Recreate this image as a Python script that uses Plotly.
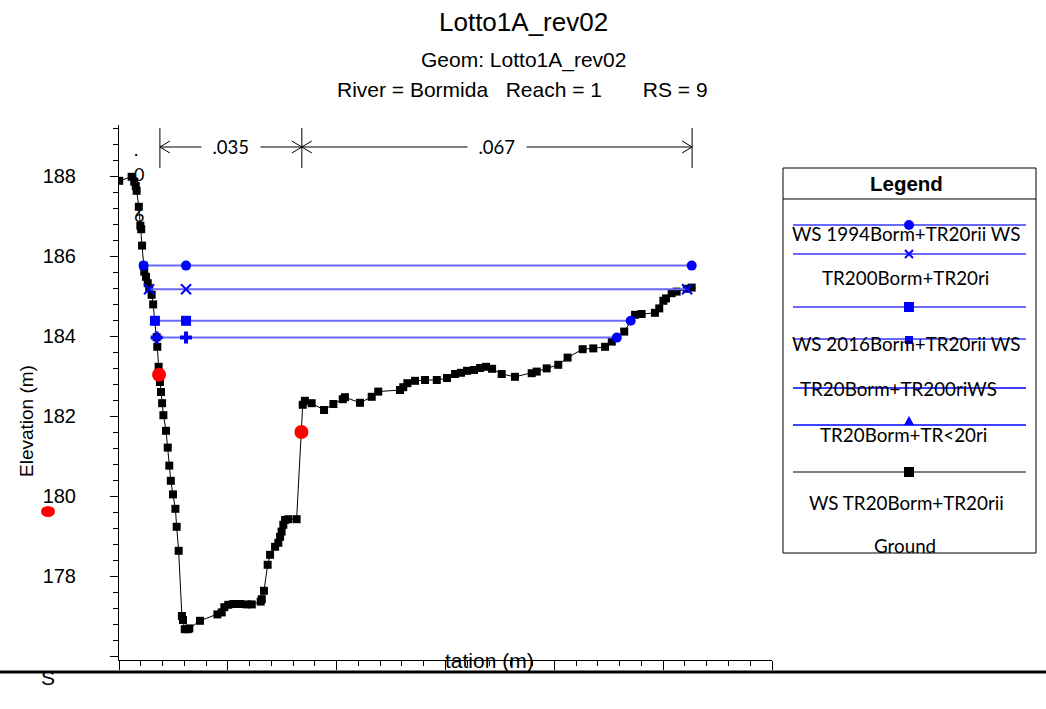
import plotly.graph_objects as go

# ---------------- data ----------------
ground_sta = [0.1, 5.8, 7.0, 7.7, 8.1, 9.1, 9.8, 10.2, 10.6, 11.3, 11.6, 12.4, 13.2, 13.9, 15.0,
              15.7, 16.5, 17.3, 17.6, 18.2, 18.8, 19.3, 19.8, 20.4, 21.6, 22.4, 23.1, 23.8, 24.8,
              25.9, 26.5, 27.4, 28.9, 29.4, 30.2, 31.6, 32.3, 37.2, 45.2, 47.2, 48.4, 50.2, 52.5,
              55.6, 58.7, 61.0, 65.1, 65.6, 66.6, 68.3, 69.4, 71.7, 73.2, 74.0, 74.7, 75.5, 76.3,
              77.8, 81.6, 84.4, 85.4, 88.5, 94.2, 98.5, 102.8, 103.8, 110.7, 116.1, 119.1, 129.1,
              130.6, 132.5, 136.0, 140.6, 146.0, 150.7, 154.4, 157.1, 159.9, 163.1, 165.9, 168.6,
              171.4, 175.8, 181.9, 189.6, 191.9, 196.5, 201.8, 206.1, 213.0, 217.9, 223.3, 226.4,
              232.1, 237.1, 240.1, 246.2, 248.2, 250.1, 251.3, 253.9, 256.2, 260.8, 263.1]
ground_elev = [187.88, 187.98, 187.86, 187.75, 187.63, 187.23, 186.76, 186.67, 186.26, 185.76,
               185.61, 185.48, 185.32, 185.19, 185.03, 184.79, 184.38, 183.97, 183.73, 183.23,
               182.85, 182.60, 182.32, 182.02, 181.63, 181.21, 180.76, 180.38, 180.04, 179.68,
               179.23, 178.63, 177.00, 176.90, 176.67, 176.67, 176.69, 176.88, 177.04, 177.09,
               177.22, 177.28, 177.30, 177.30, 177.29, 177.29, 177.36, 177.42, 177.63, 178.28,
               178.53, 178.73, 178.83, 178.98, 179.11, 179.28, 179.40, 179.42, 179.42, 182.28,
               182.38, 182.32, 182.15, 182.30, 182.42, 182.47, 182.33, 182.48, 182.61, 182.65,
               182.72, 182.82, 182.88, 182.90, 182.90, 182.95, 183.05, 183.08, 183.13, 183.15,
               183.20, 183.23, 183.18, 183.05, 182.98, 183.07, 183.11, 183.19, 183.28, 183.46,
               183.67, 183.69, 183.73, 183.86, 184.11, 184.53, 184.55, 184.58, 184.69, 184.88,
               184.94, 185.07, 185.11, 185.18, 185.21]

ws_names = ["WS 1994Borm+TR20rii", "WS TR200Borm+TR20ri", "WS 2016Borm+TR20rii", "WS TR20Borm+TR200ri"]
ws_elev = [185.76, 185.17, 184.38, 183.96]
ws_sta = [[11.3, 30.8, 263.1], [13.8, 30.8, 261.0], [16.5, 30.8, 235.1], [17.3, 30.8, 228.7]]
ws_symbols = [["circle"] * 3, ["x-thin"] * 3, ["square", "square", "circle"], ["cross", "cross", "circle"]]

bank_sta = [18.4, 83.8]
bank_elev = [183.03, 181.60]
n_values = [".035", ".067"]
reach_ends = [18.8, 84.0, 263.3]

ytick_vals = [176, 178, 180, 182, 184, 186, 188]
ytick_text = ["", "178", "180", "182", "184", "186", "188"]

legend_labels = ["WS 1994Borm+TR20rii WS", "TR200Borm+TR20ri", "WS 2016Borm+TR20rii WS",
                 "TR20Borm+TR200riWS", "TR20Borm+TR<20ri", "WS TR20Borm+TR20rii", "Ground"]

# ---------------- layout helpers (page pixel coordinates) ----------------
W, H = 1046, 709
L, R, T, B = 119, 772, 125, 660   # plot area in page pixels
XR = [0, 300]
YR = [175.9, 189.275]


def px(x):
    return (x - L) / (R - L)


def py(y):
    return (B - y) / (B - T)


def sta_to_px(s):
    return L + (s - XR[0]) / (XR[1] - XR[0]) * (R - L)


BLUE = "#0000ff"
WSLINE = "rgb(105,105,255)"
ARIAL = "Liberation Sans, Arial, sans-serif"
CAL = "Lato, Carlito, sans-serif"

fig = go.Figure()

fig.add_trace(go.Scatter(x=ground_sta, y=ground_elev, mode="lines+markers", name="Ground",
                         line=dict(color="black", width=1),
                         marker=dict(symbol="square", size=8, color="black"), showlegend=False))

for name, e, st, sy in zip(ws_names, ws_elev, ws_sta, ws_symbols):
    fig.add_trace(go.Scatter(x=st, y=[e] * len(st), mode="lines+markers", name=name,
                             line=dict(color=WSLINE, width=2),
                             marker=dict(symbol=sy, size=10, color=BLUE,
                                         line=dict(color=BLUE, width=2 if sy[0] == "x-thin" else 0)),
                             showlegend=False))

fig.add_trace(go.Scatter(x=bank_sta, y=bank_elev, mode="markers", name="Bank Sta",
                         marker=dict(symbol="circle", size=14, color="#ff0000"), showlegend=False))

shapes = []
ann = []


def text(x, y, t, family, size, **kw):
    ann.append(dict(x=px(x), y=py(y), xref="paper", yref="paper", showarrow=False, text=t,
                    xanchor="center", yanchor="middle",
                    font=dict(family=family, size=size, color="black"), **kw))


# n-value dimension lines
ytop, ybot, yarr = 128, 168, 147
for s in reach_ends:
    xp = px(sta_to_px(s))
    shapes.append(dict(type="line", xref="paper", yref="paper", x0=xp, x1=xp, y0=py(ybot), y1=py(ytop),
                       line=dict(color="black", width=1)))
for i, nv in enumerate(n_values):
    a, b = sta_to_px(reach_ends[i]), sta_to_px(reach_ends[i + 1])
    shapes.append(dict(type="line", xref="paper", yref="paper", x0=px(a), x1=px(b), y0=py(yarr), y1=py(yarr),
                       line=dict(color="black", width=1)))
    path = (f"M {px(a + 10)} {py(yarr - 6)} L {px(a)} {py(yarr)} L {px(a + 10)} {py(yarr + 6)} "
            f"M {px(b - 10)} {py(yarr - 6)} L {px(b)} {py(yarr)} L {px(b - 10)} {py(yarr + 6)}")
    shapes.append(dict(type="path", xref="paper", yref="paper", path=path, line=dict(color="black", width=1)))
    text((a + b) / 2, yarr, "\u00a0\u00a0" + nv + "\u00a0\u00a0", CAL, 18.5, bgcolor="white")

# legend box
lx0, lx1, ly0, ly1, lhead = 783, 1036, 168, 553, 199
shapes.append(dict(type="rect", xref="paper", yref="paper", x0=px(lx0), x1=px(lx1), y0=py(ly1), y1=py(ly0),
                   line=dict(color="black", width=1), fillcolor="white", layer="below"))
shapes.append(dict(type="line", xref="paper", yref="paper", x0=px(lx0), x1=px(lx1), y0=py(lhead), y1=py(lhead),
                   line=dict(color="black", width=1)))
text(906, 183, "<b>Legend</b>", ARIAL, 20.5)

key_lines = [(225, WSLINE, 2), (254, WSLINE, 2), (307, WSLINE, 2), (339, WSLINE, 2),
             (388, BLUE, 1.5), (425, BLUE, 1.5), (472, "#808080", 2)]
for yy, c, w in key_lines:
    shapes.append(dict(type="line", xref="paper", yref="paper", x0=px(793), x1=px(1026), y0=py(yy), y1=py(yy),
                       line=dict(color=c, width=w)))
mx = 909
shapes.append(dict(type="circle", xref="paper", yref="paper", x0=px(mx - 5), x1=px(mx + 5), y0=py(230), y1=py(220),
                   fillcolor=BLUE, line=dict(width=0)))
shapes.append(dict(type="path", xref="paper", yref="paper",
                   path=f"M {px(mx-4)} {py(250)} L {px(mx+4)} {py(258)} M {px(mx-4)} {py(258)} L {px(mx+4)} {py(250)}",
                   line=dict(color=BLUE, width=2)))
shapes.append(dict(type="rect", xref="paper", yref="paper", x0=px(mx - 5), x1=px(mx + 5), y0=py(312), y1=py(302),
                   fillcolor=BLUE, line=dict(width=0)))
shapes.append(dict(type="rect", xref="paper", yref="paper", x0=px(mx - 4), x1=px(mx + 4), y0=py(344), y1=py(336),
                   fillcolor=BLUE, line=dict(width=0)))
shapes.append(dict(type="path", xref="paper", yref="paper",
                   path=f"M {px(mx-5)} {py(425)} L {px(mx)} {py(416)} L {px(mx+5)} {py(425)} Z",
                   fillcolor=BLUE, line=dict(width=0)))
shapes.append(dict(type="rect", xref="paper", yref="paper", x0=px(mx - 5), x1=px(mx + 5), y0=py(477), y1=py(467),
                   fillcolor="black", line=dict(width=0)))

label_pos = [(906, 233), (905, 277), (906, 343), (898, 388), (904, 434), (906, 502), (905, 545)]
for (xx, yy), t in zip(label_pos, legend_labels):
    text(xx, yy, t, CAL, 18.8)

# titles
text(523, 22, "Lotto1A_rev02", ARIAL, 26)
text(523, 60, "Geom: Lotto1A_rev02", ARIAL, 21)
text(522, 89, "River = Bormida\u00a0\u00a0\u00a0Reach = 1\u00a0\u00a0\u00a0\u00a0\u00a0\u00a0\u00a0RS = 9", ARIAL, 21)

# axis titles (split as in the picture)
text(26, 421, "Elevation (m)", ARIAL, 19, textangle=-90)
text(489, 660, "tation (m)", ARIAL, 21)
text(48, 677, "S", ARIAL, 21)

# stray characters near the left bank
for (xx, yy), t in zip([(136, 149), (139, 174), (139, 215)], [".", "0", "6"]):
    text(xx, yy, t, CAL, 18)

# red blob and baseline
shapes.append(dict(type="circle", xref="paper", yref="paper", x0=px(41), x1=px(55), y0=py(517), y1=py(506),
                   fillcolor="#ff0000", line=dict(width=0)))
shapes.append(dict(type="line", xref="paper", yref="paper", x0=px(0), x1=px(W), y0=py(672), y1=py(672),
                   line=dict(color="black", width=3)))

fig.update_layout(
    width=W, height=H, margin=dict(l=L, r=W - R, t=T, b=H - B),
    paper_bgcolor="white", plot_bgcolor="white",
    shapes=shapes, annotations=ann, showlegend=False,
    xaxis=dict(range=XR, showgrid=False, zeroline=False, showline=True, linecolor="black", linewidth=1,
               ticks="outside", tick0=0, dtick=50, ticklen=9, tickcolor="black", showticklabels=False,
               minor=dict(dtick=10, tick0=0, ticks="outside", ticklen=5, tickcolor="black")),
    yaxis=dict(range=YR, showgrid=False, zeroline=False, showline=True, linecolor="black", linewidth=1,
               ticks="outside", tickvals=ytick_vals, ticktext=ytick_text, ticklen=8, tickcolor="black",
               tickfont=dict(family=ARIAL, size=20, color="black"), ticklabelstandoff=30,
               minor=dict(dtick=0.4, tick0=176, ticks="outside", ticklen=5, tickcolor="black")),
)

fig.write_html("out.html", config={"displayModeBar": False},
               post_script="document.body.style.margin='0px';document.body.style.overflow='hidden';")
